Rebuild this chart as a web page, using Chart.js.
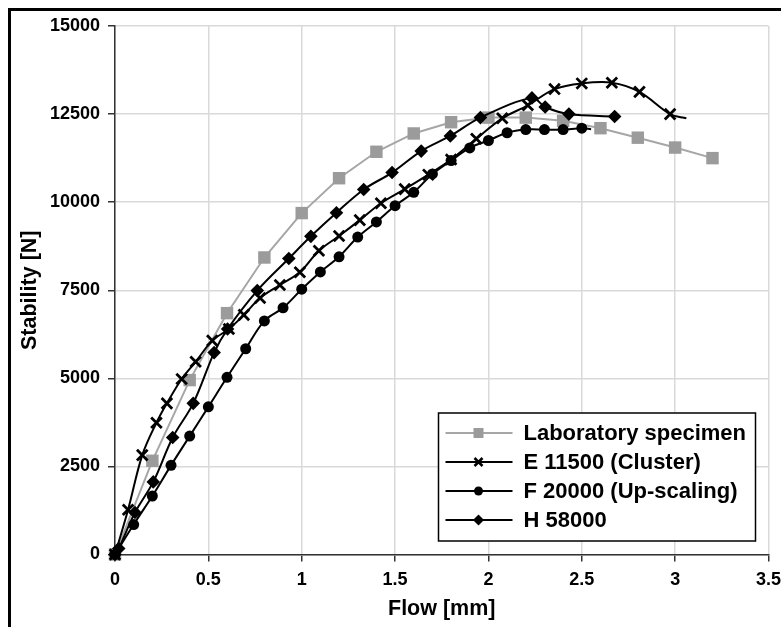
<!DOCTYPE html>
<html>
<head>
<meta charset="utf-8">
<script src="https://cdn.jsdelivr.net/npm/chart.js@4.4.1/dist/chart.umd.min.js"></script>
<style>
  html, body { margin: 0; padding: 0; background: #fff; overflow: hidden; }
  #wrap { position: relative; width: 781px; height: 627px; }
  #frame { position: absolute; left: 8px; top: 8px; width: 820px; height: 700px; border: 3px solid #000; box-sizing: border-box; }
  canvas { position: absolute; left: 0; top: 0; }
</style>
</head>
<body>
<div id="wrap">
  <canvas id="myChart" width="781" height="627"></canvas>
  <div id="frame"></div>
</div>
<script>
const seriesNames = ["Laboratory specimen", "E 11500 (Cluster)", "F 20000 (Up-scaling)", "H 58000"];
const xTickLabels = ["0", "0.5", "1", "1.5", "2", "2.5", "3", "3.5"];
const yTickLabels = ["0", "2500", "5000", "7500", "10000", "12500", "15000"];

const labFlow = [0, 0.2, 0.4, 0.6, 0.8, 1.0, 1.2, 1.4, 1.6, 1.8, 2.0, 2.2, 2.4, 2.6, 2.8, 3.0, 3.2];
const labStab = [0, 2660, 4950, 6850, 8430, 9690, 10680, 11430, 11950, 12270, 12400, 12400, 12310, 12100, 11830, 11550, 11250];

const eFlow = [0, 0.07, 0.146, 0.222, 0.278, 0.357, 0.432, 0.521, 0.61, 0.69, 0.777, 0.883, 0.99, 1.092, 1.2, 1.311, 1.424, 1.552, 1.678, 1.8, 1.935, 2.074, 2.211, 2.354, 2.5, 2.661, 2.809, 2.973, 3.06];
const eStab = [0, 1270, 2820, 3740, 4290, 4980, 5470, 6070, 6400, 6800, 7280, 7650, 8010, 8620, 9040, 9490, 9970, 10370, 10780, 11210, 11800, 12380, 12750, 13210, 13370, 13390, 13130, 12500, 12380];

const fFlow = [0, 0.1, 0.2, 0.3, 0.4, 0.5, 0.6, 0.7, 0.8, 0.9, 1.0, 1.1, 1.2, 1.3, 1.4, 1.5, 1.6, 1.7, 1.8, 1.9, 2.0, 2.1, 2.2, 2.3, 2.4, 2.5, 2.55];
const fStab = [0, 850, 1660, 2530, 3360, 4190, 5030, 5840, 6630, 7000, 7530, 8020, 8450, 9010, 9440, 9900, 10280, 10800, 11180, 11540, 11750, 11970, 12060, 12060, 12060, 12100, 12070];

const hFlow = [0, 0.02, 0.107, 0.205, 0.309, 0.419, 0.531, 0.603, 0.762, 0.931, 1.049, 1.186, 1.332, 1.484, 1.64, 1.796, 1.957, 2.233, 2.304, 2.431, 2.676];
const hStab = [0, 170, 1190, 2060, 3320, 4290, 5730, 6400, 7490, 8400, 9030, 9700, 10360, 10840, 11450, 11880, 12400, 12960, 12700, 12500, 12430];

const FONT = '"Liberation Sans", Arial, sans-serif';

function pts(xs, ys) {
  return xs.map((x, i) => ({ x: x, y: ys[i] }));
}

// legend drawn inside the plot, bottom right
const boxLegend = {
  id: "boxLegend",
  afterDraw(chart) {
    const ctx = chart.ctx;
    const a = chart.chartArea;
    const w = 317, h = 128;
    const left = a.right - 13 - w;
    const top = a.bottom - 13.5 - h;
    ctx.save();
    ctx.fillStyle = "#fff";
    ctx.fillRect(left, top, w, h);
    ctx.lineWidth = 1.5;
    ctx.strokeStyle = "#000";
    ctx.strokeRect(left, top, w, h);
    ctx.font = "bold 22px " + FONT;
    ctx.textBaseline = "middle";
    ctx.textAlign = "left";
    chart.data.datasets.forEach((ds, i) => {
      const y = top + 20 + i * 29;
      const cx = left + 40;
      ctx.strokeStyle = ds.borderColor;
      ctx.lineWidth = 2;
      ctx.beginPath();
      ctx.moveTo(left + 7, y);
      ctx.lineTo(left + 74, y);
      ctx.stroke();
      ctx.fillStyle = ds.pointBackgroundColor;
      ctx.strokeStyle = ds.pointBorderColor;
      ctx.beginPath();
      if (ds.pointStyle === "rect") {
        ctx.fillRect(cx - 5, y - 5, 10, 10);
      } else if (ds.pointStyle === "crossRot") {
        ctx.lineWidth = 2.5;
        ctx.moveTo(cx - 4, y - 4); ctx.lineTo(cx + 4, y + 4);
        ctx.moveTo(cx - 4, y + 4); ctx.lineTo(cx + 4, y - 4);
        ctx.stroke();
      } else if (ds.pointStyle === "circle") {
        ctx.arc(cx, y, 4.5, 0, Math.PI * 2);
        ctx.fill();
      } else {
        ctx.moveTo(cx - 5.5, y); ctx.lineTo(cx, y - 5.5);
        ctx.lineTo(cx + 5.5, y); ctx.lineTo(cx, y + 5.5);
        ctx.closePath();
        ctx.fill();
      }
      ctx.fillStyle = "#000";
      ctx.fillText(ds.label, left + 85, y + 1);
    });
    ctx.restore();
  }
};

const data = {
  datasets: [
    {
      label: seriesNames[0],
      data: pts(labFlow, labStab),
      borderColor: "#a6a6a6",
      borderWidth: 2,
      pointStyle: "rect",
      pointRadius: 8.8,
      pointBackgroundColor: "#9b9b9b",
      pointBorderColor: "#9b9b9b",
      pointBorderWidth: 0,
      tension: 0,
      order: 4,
    },
    {
      label: seriesNames[1],
      data: pts(eFlow, eStab),
      borderColor: "#000",
      borderWidth: 2,
      pointStyle: "crossRot",
      pointRadius: (c) => (c.dataIndex === eFlow.length - 1 ? 0 : 7.5),
      pointBackgroundColor: "#000",
      pointBorderColor: "#000",
      pointBorderWidth: 2.8,
      tension: 0.35,
      order: 3,
    },
    {
      label: seriesNames[2],
      data: pts(fFlow, fStab),
      borderColor: "#000",
      borderWidth: 2,
      pointStyle: "circle",
      pointRadius: (c) => (c.dataIndex === fFlow.length - 1 ? 0 : 5.5),
      pointBackgroundColor: "#000",
      pointBorderColor: "#000",
      pointBorderWidth: 0,
      tension: 0.35,
      order: 2,
    },
    {
      label: seriesNames[3],
      data: pts(hFlow, hStab),
      borderColor: "#000",
      borderWidth: 2,
      pointStyle: "rectRot",
      pointRadius: 6.8,
      pointBackgroundColor: "#000",
      pointBorderColor: "#000",
      pointBorderWidth: 0,
      tension: 0.35,
      order: 1,
    },
  ],
};

const config = {
  type: "line",
  data: data,
  options: {
    responsive: false,
    animation: false,
    clip: false,
    layout: { padding: { top: 26, right: 0, bottom: 0, left: 0 } },
    plugins: { legend: { display: false }, tooltip: { enabled: false } },
    datasets: { line: { clip: false } },
    scales: {
      x: {
        type: "linear",
        min: 0,
        max: 3.5,
        afterFit: (s) => { s.height = 72.5; s.paddingRight = 12.5; },
        ticks: {
          stepSize: 0.5,
          padding: 8,
          color: "#000",
          font: { family: FONT, size: 18, weight: "bold" },
          maxRotation: 0,
          callback: (v, i) => xTickLabels[i],
        },
        grid: { color: "#d9d9d9", lineWidth: 1.5, tickLength: 7, tickColor: "#333", tickWidth: 1.5 },
        border: { color: "#333", width: 1.5 },
        title: {
          display: true,
          text: "Flow [mm]",
          color: "#000",
          font: { family: FONT, size: 21.5, weight: "bold" },
          padding: { top: 4, bottom: 5 },
        },
      },
      y: {
        type: "linear",
        min: 0,
        max: 15000,
        afterFit: (s) => { s.width = 115; },
        ticks: {
          stepSize: 2500,
          padding: 8,
          color: "#000",
          font: { family: FONT, size: 18, weight: "bold" },
          callback: (v, i) => yTickLabels[i],
        },
        grid: { color: "#d9d9d9", lineWidth: 1.5, tickLength: 7, tickColor: "#333", tickWidth: 1.5 },
        border: { color: "#333", width: 1.5 },
        title: {
          display: true,
          text: "Stability [N]",
          color: "#000",
          font: { family: FONT, size: 21.5, weight: "bold" },
          padding: { top: 17, bottom: 4 },
        },
      },
    },
  },
  plugins: [boxLegend],
};

const myChart = new Chart(document.getElementById("myChart"), config);
</script>
</body>
</html>
